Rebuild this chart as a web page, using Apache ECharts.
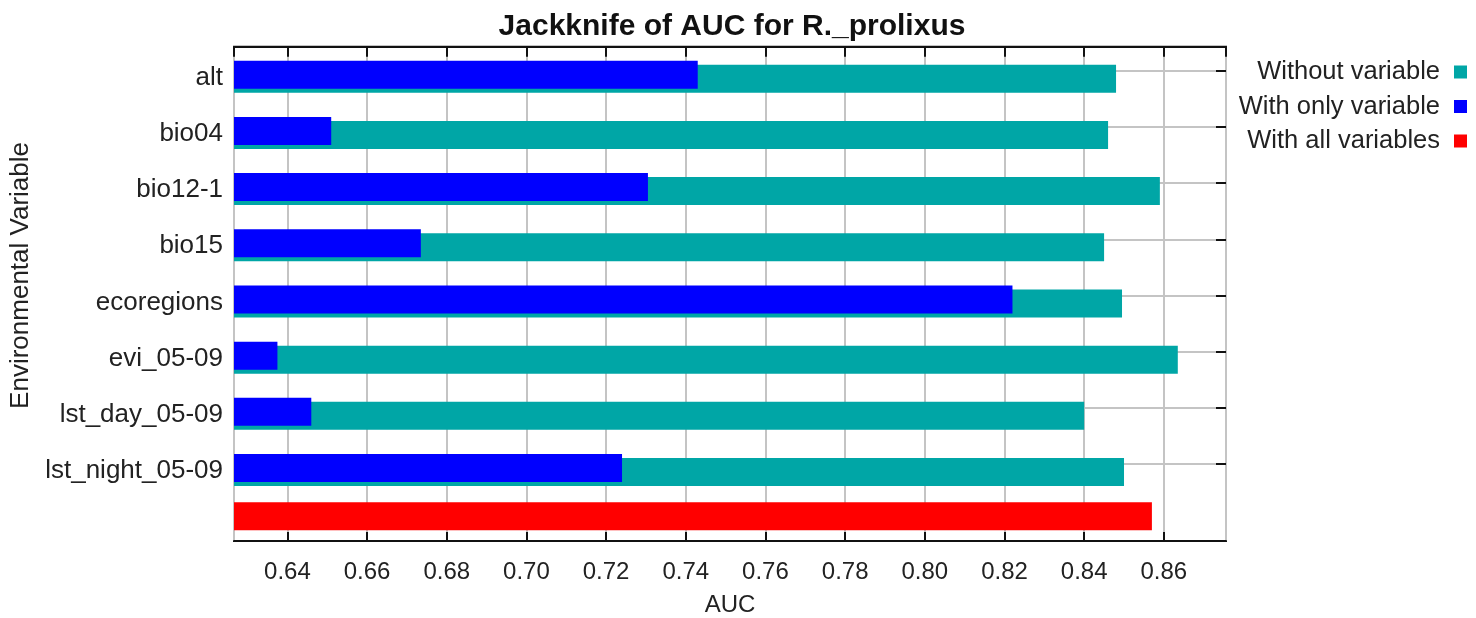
<!DOCTYPE html>
<html>
<head>
<meta charset="utf-8">
<script src="https://cdn.jsdelivr.net/npm/echarts@6/dist/echarts.min.js"></script>
<style>
  html, body { margin: 0; padding: 0; background: #fff; }
  #chart { width: 1476px; height: 618px; }
</style>
</head>
<body>
<div id="chart"></div>
<script>
// ---- data ----
const categories = ['alt', 'bio04', 'bio12-1', 'bio15', 'ecoregions', 'evi_05-09', 'lst_day_05-09', 'lst_night_05-09'];
const withoutVariable = [0.848, 0.846, 0.859, 0.845, 0.8495, 0.8635, 0.840, 0.850];
const withOnlyVariable = [0.743, 0.651, 0.7305, 0.6735, 0.822, 0.6375, 0.646, 0.724];
const withAllVariables = 0.857;
const xTickLabels = ['0.64', '0.66', '0.68', '0.70', '0.72', '0.74', '0.76', '0.78', '0.80', '0.82', '0.84', '0.86'];

// ---- build ----
const yCats = categories.concat(['']);
const nCat = categories.length;
const tealData = withoutVariable.concat([null]);
const blueData = withOnlyVariable.concat([null]);
const redData = categories.map(() => null).concat([withAllVariables]);

const FONT = 'Liberation Sans, Arial, Helvetica, sans-serif';
const TEXT = '#222';
const GRIDC = '#c4c4c4';
const XMIN = 0.6266, XMAX = 0.8756;

const chart = echarts.init(document.getElementById('chart'), null, { renderer: 'canvas' });

const barCommon = { type: 'bar', xAxisIndex: 0, yAxisIndex: 0, barWidth: 28, barGap: '-85.7%', animation: false };

chart.setOption({
  animation: false,
  backgroundColor: '#fff',
  textStyle: { fontFamily: FONT },
  title: {
    text: 'Jackknife of AUC for R._prolixus',
    left: 727, top: 7, textAlign: 'center',
    textStyle: { fontFamily: FONT, fontSize: 30, fontWeight: 'bold', color: '#111' }
  },
  legend: {
    data: ['Without variable', 'With only variable', 'With all variables'],
    orient: 'vertical', right: 4, top: 54, align: 'right',
    itemWidth: 13, itemHeight: 13, itemGap: 8.5, icon: 'rect',
    textStyle: { fontFamily: FONT, fontSize: 25.5, color: TEXT, padding: [0, 9, 0, 0] }
  },
  grid: [
    { left: 234, right: 250, top: 42.6, bottom: 69.7, containLabel: false, outerBoundsMode: 'none' },
    { left: 234, right: 250, top: 46.7, bottom: 77, show: true, borderColor: '#111', borderWidth: 2, backgroundColor: 'transparent', containLabel: false, outerBoundsMode: 'none' }
  ],
  xAxis: [
    { gridIndex: 0, type: 'value', min: XMIN, max: XMAX, show: false },
    {
      gridIndex: 1, type: 'value', position: 'bottom', min: XMIN, max: XMAX, splitNumber: 12,
      name: 'AUC', nameLocation: 'middle', nameGap: 52,
      nameTextStyle: { fontFamily: FONT, fontSize: 24, color: TEXT },
      axisLine: { show: true, lineStyle: { color: '#111', width: 2 } },
      axisTick: { show: true, inside: true, length: 9, lineStyle: { color: '#111', width: 2 } },
      axisLabel: {
        show: true, margin: 19, fontFamily: FONT, fontSize: 24, color: TEXT,
        showMinLabel: false, showMaxLabel: false,
        formatter: v => { const s = v.toFixed(2); return xTickLabels.indexOf(s) >= 0 ? s : ''; }
      },
      splitLine: { show: true, lineStyle: { color: GRIDC, width: 2 } }
    },
    {
      gridIndex: 1, type: 'value', position: 'top', min: XMIN, max: XMAX, splitNumber: 12,
      axisLine: { show: true, lineStyle: { color: '#111', width: 2 } },
      axisTick: { show: true, inside: true, length: 10, lineStyle: { color: '#111', width: 2 } },
      axisLabel: { show: false }, splitLine: { show: false }
    }
  ],
  yAxis: [
    {
      gridIndex: 0, type: 'category', data: yCats, inverse: true, position: 'left',
      name: 'Environmental Variable', nameLocation: 'middle', nameGap: 188, nameRotate: 90,
      nameTextStyle: { fontFamily: FONT, fontSize: 26, color: TEXT, padding: [0, 0, 0, 40] },
      axisLine: { show: false }, axisTick: { show: false },
      axisLabel: { show: true, margin: 11, fontFamily: FONT, fontSize: 26, color: TEXT, verticalAlign: 'top', lineHeight: 14 },
      splitLine: {
        show: true, alignWithLabel: true,
        interval: (i) => i < nCat,
        lineStyle: { color: GRIDC, width: 2 }
      }
    },
    {
      gridIndex: 0, type: 'category', data: yCats, inverse: true, position: 'right',
      axisLine: { show: false },
      axisTick: { show: true, inside: true, length: 10, alignWithLabel: true, interval: (i) => i < nCat, lineStyle: { color: '#111', width: 2 } },
      axisLabel: { show: false }, splitLine: { show: false }
    },
    { gridIndex: 1, type: 'value', show: false, min: 0, max: 1 }
  ],
  series: [
    Object.assign({}, barCommon, { name: '_gapA', data: yCats.map(() => null), itemStyle: { color: 'transparent' } }),
    Object.assign({}, barCommon, { name: 'With all variables', data: redData, itemStyle: { color: '#ff0000' }, z: 2 }),
    Object.assign({}, barCommon, { name: '_gapB', data: yCats.map(() => null), itemStyle: { color: 'transparent' } }),
    Object.assign({}, barCommon, { name: 'With only variable', data: blueData, itemStyle: { color: '#0000ff' }, z: 4 }),
    Object.assign({}, barCommon, { name: 'Without variable', data: tealData, itemStyle: { color: '#00a6a6' }, z: 3 })
  ]
});
</script>
</body>
</html>
